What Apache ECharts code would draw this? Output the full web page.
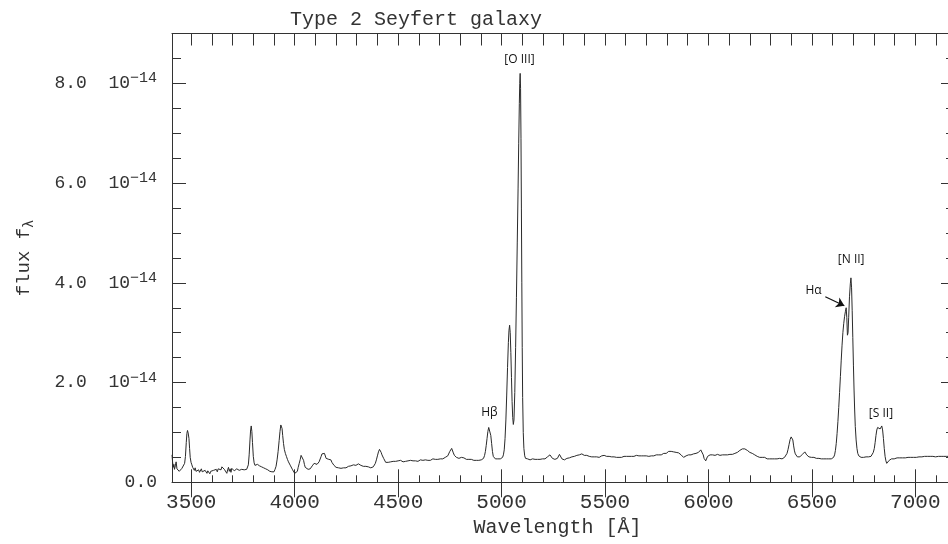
<!DOCTYPE html>
<html>
<head>
<meta charset="utf-8">
<script src="https://cdn.jsdelivr.net/npm/echarts/dist/echarts.min.js"></script>
<style>html,body{margin:0;padding:0;background:#fff;}#c{width:948px;height:544px;}</style>
</head>
<body>
<div id="c"></div>
<script>
// Flux in units of 1e-14, wavelength in Angstrom
const specBlue = [[3407,0.55],[3410,0.40],[3413,0.30],[3416,0.36],[3419,0.26],[3423,0.33],[3427,0.41],[3431,0.27],[3434,0.24],[3438,0.30],[3442,0.22],[3447,0.25],[3451,0.21],[3455,0.28],[3460,0.27],[3464,0.31],[3468,0.38],[3472,0.52],[3476,0.80],[3479,0.98],[3482,1.04],[3485,0.99],[3489,0.88],[3492,0.68],[3495,0.50],[3499,0.40],[3503,0.35],[3507,0.30],[3511,0.28],
[3515,0.24],[3519,0.29],[3523,0.22],[3527,0.26],[3531,0.21],[3536,0.25],[3540,0.20],[3545,0.24],[3549,0.27],[3553,0.21],[3558,0.23],[3562,0.19],[3567,0.24],[3571,0.22],[3576,0.18],[3580,0.23],[3585,0.20],[3590,0.17],[3594,0.22],[3599,0.19],[3603,0.21],[3608,0.24],[3612,0.20],[3617,0.23],[3621,0.26],[3626,0.21],[3630,0.27],[3635,0.23],[3639,0.29],[3644,0.25],[3648,0.31],[3652,0.27],[3656,0.35],[3660,0.26],[3664,0.22],[3668,0.28],[3672,0.18],[3676,0.25],[3680,0.30],[3684,0.22],[3688,0.27],[3692,0.20],[3696,0.28],[3700,0.24],[3704,0.30],[3708,0.23],[3712,0.26],[3716,0.22],[3720,0.27],[3724,0.25],[3728,0.29],[3732,0.24],[3736,0.27],[3740,0.25],[3744,0.26],[3748,0.23],[3752,0.27],[3756,0.25],[3760,0.26],[3764,0.28],[3768,0.26],[3772,0.29],[3776,0.35],[3780,0.55],[3784,0.85],[3787,1.05],[3790,1.13],[3793,1.02],[3796,0.80],[3800,0.52],[3804,0.39],[3808,0.34],[3812,0.36],[3816,0.32],[3820,0.36],[3825,0.34],[3830,0.33],[3835,0.35],[3840,0.31],[3845,0.32],[3850,0.29],[3855,0.30],[3860,0.27],[3865,0.28],[3870,0.25],[3875,0.24],[3880,0.22],[3885,0.23],[3890,0.21],[3895,0.22],[3900,0.21],[3905,0.26],[3910,0.32],[3915,0.45],[3920,0.62],[3925,0.84],[3929,1.02],[3933,1.15],[3936,1.18],[3939,1.08],[3942,0.94],[3946,0.78],[3950,0.66],[3955,0.58],[3960,0.52],[3965,0.46],[3970,0.41],[3975,0.38],[3980,0.33],[3985,0.29],[3990,0.25],[3995,0.21],[4000,0.18],[4005,0.15],[4009,0.16],[4013,0.22],[4017,0.30],[4022,0.38],[4027,0.46],[4031,0.54],[4035,0.57],[4039,0.52],[4043,0.44],[4047,0.36],[4051,0.30],[4055,0.28],[4060,0.27],[4065,0.26],[4070,0.28],[4075,0.27],[4080,0.30],[4085,0.33],[4090,0.37],[4094,0.38],[4098,0.35],[4103,0.34],[4108,0.36],[4113,0.38],[4118,0.41],[4123,0.45],[4128,0.52],[4132,0.57],[4136,0.60],[4140,0.61],[4144,0.58],[4148,0.54],[4152,0.48],[4156,0.45],[4160,0.44],[4165,0.46],[4170,0.48],[4175,0.45],[4180,0.40],[4185,0.36],[4190,0.34],[4195,0.32],[4200,0.30]];
const specGreen = [[4206,0.31],[4212,0.29],[4218,0.30],[4224,0.28],[4230,0.31],[4236,0.29],[4242,0.30],[4248,0.29],[4254,0.31],[4260,0.32],[4266,0.31],[4272,0.33],[4278,0.35],[4284,0.35],[4290,0.36],[4296,0.34],[4302,0.35],[4308,0.37],[4314,0.36],[4320,0.34],[4326,0.33],[4332,0.32],[4338,0.31],[4344,0.32],[4350,0.30],[4356,0.31],[4362,0.30],[4368,0.29],[4374,0.30],[4380,0.31],[4385,0.33],[4390,0.38],[4395,0.45],[4400,0.53],[4405,0.61],[4410,0.66],[4414,0.65],[4418,0.60],[4422,0.55],[4426,0.52],[4430,0.48],[4435,0.44],[4440,0.40],[4446,0.38],[4452,0.40],[4458,0.39],[4464,0.41],[4470,0.40],[4476,0.42],[4482,0.40],[4488,0.42],[4494,0.41],[4500,0.43],[4506,0.41],[4512,0.44],[4518,0.42],[4524,0.41],[4530,0.43],[4536,0.42],[4542,0.41],[4548,0.43],[4554,0.42],[4560,0.44],[4566,0.42],[4572,0.43],[4578,0.45],[4584,0.43],[4590,0.44],[4596,0.42],[4602,0.44],[4608,0.45],[4614,0.43],[4620,0.44],[4626,0.43],[4632,0.45],[4638,0.43],[4644,0.44],[4650,0.46],[4656,0.44],[4662,0.45],[4668,0.47],[4674,0.45],[4680,0.46],[4686,0.48],[4692,0.46],[4698,0.47],[4704,0.47],[4710,0.48],[4716,0.47],[4722,0.49],[4728,0.50],[4734,0.51],[4740,0.53],[4745,0.57],[4750,0.62],[4755,0.66],[4759,0.68],[4763,0.65],[4767,0.59],[4772,0.54],[4777,0.51],[4782,0.50],[4788,0.49],[4794,0.48],[4800,0.49],[4806,0.50],[4812,0.51],[4818,0.49],[4824,0.47],[4830,0.46],[4836,0.47],[4842,0.46],[4848,0.45],[4854,0.46],[4860,0.45],[4866,0.44],[4872,0.45],[4878,0.44],[4884,0.43],[4890,0.44],[4896,0.44],[4902,0.45],[4908,0.46]];
const specHbOIII = [[4913,0.48],[4918,0.54],[4922,0.62],[4926,0.74],[4930,0.88],[4934,1.02],[4938,1.10],[4941,1.12],[4944,1.08],[4948,0.94],[4952,0.78],[4956,0.62],[4960,0.52],[4965,0.48],[4970,0.47],[4976,0.46],[4982,0.47],[4988,0.46],[4994,0.47],[5000,0.48],[5005,0.50],[5009,0.55],[5013,0.65],[5017,0.88],[5021,1.25],[5025,1.75],[5029,2.30],[5033,2.80],[5036,3.05],[5039,3.15],[5042,3.00],[5045,2.60],[5048,2.10],[5051,1.62],[5054,1.30],[5057,1.16],[5060,1.25],[5064,1.80],[5068,2.70],[5072,3.70],[5076,4.80],[5080,5.90],[5083,6.80],[5086,7.60],[5088,8.00],[5090,8.20],[5092,7.90],[5094,6.90],[5096,5.50],[5098,4.00],[5100,2.70],[5102,1.70],[5105,1.00],[5108,0.68],[5112,0.53],[5116,0.48],[5120,0.46]];
const specYellow = [[5126,0.47],[5132,0.46],[5138,0.45],[5144,0.46],[5150,0.47],[5156,0.45],[5162,0.46],[5168,0.45],[5174,0.46],[5180,0.47],[5186,0.46],[5192,0.45],[5198,0.47],[5204,0.48],[5210,0.47],[5216,0.49],[5222,0.51],[5228,0.53],[5234,0.55],[5240,0.52],[5246,0.48],[5252,0.45],[5258,0.46],[5264,0.47],[5270,0.48],[5276,0.50],[5280,0.56],[5284,0.59],[5288,0.52],[5292,0.47],[5298,0.46],[5304,0.45],[5310,0.47],[5316,0.48],[5322,0.47],[5328,0.49],[5334,0.50],[5340,0.51],[5346,0.50],[5352,0.52],[5358,0.53],[5364,0.54],[5370,0.53],[5376,0.55],[5382,0.56],[5388,0.57],[5394,0.55],[5400,0.54],[5406,0.53],[5412,0.54],[5418,0.53],[5424,0.52],[5430,0.53],[5436,0.51],[5442,0.52],[5448,0.51],[5454,0.50],[5460,0.51],[5466,0.50],[5472,0.50],[5478,0.52],[5484,0.53],[5490,0.52],[5496,0.54],[5502,0.54],[5508,0.52],[5514,0.51],[5520,0.52],[5526,0.51],[5532,0.51],[5538,0.50],[5544,0.51],[5550,0.50],[5556,0.50],[5562,0.49],[5568,0.50],[5574,0.51],[5580,0.50],[5586,0.51],[5592,0.52],[5598,0.51],[5604,0.52],[5610,0.51],[5616,0.52],[5622,0.53],[5628,0.52],[5634,0.53],[5640,0.52],[5646,0.53],[5652,0.54],[5658,0.53],[5664,0.53],[5670,0.52],[5676,0.53],[5682,0.54],[5688,0.53],[5694,0.54],[5700,0.53],[5706,0.54],[5712,0.52],[5718,0.53],[5724,0.53],[5730,0.54],[5736,0.53],[5742,0.54],[5748,0.55],[5754,0.54],[5760,0.55],[5766,0.56],[5772,0.55],[5778,0.57],[5784,0.58],[5790,0.59],[5796,0.58],[5802,0.60],[5808,0.62],[5814,0.63],[5820,0.62],[5826,0.62],[5832,0.61],[5838,0.61],[5844,0.60],[5850,0.60],[5856,0.59],[5862,0.58],[5868,0.55],[5874,0.52],[5880,0.50],[5886,0.51],[5892,0.53],[5898,0.55],[5904,0.55],[5910,0.56],[5916,0.55],[5922,0.56],[5928,0.57],[5934,0.57],[5940,0.58],[5946,0.58],[5952,0.60],[5958,0.62],[5963,0.65],[5967,0.67],[5971,0.62],[5975,0.55],[5979,0.48],[5983,0.44],[5987,0.43],[5991,0.47],[5996,0.52],[6001,0.55]];
const specOrange = [[6008,0.55],[6014,0.54],[6020,0.55],[6026,0.55],[6032,0.54],[6038,0.55],[6044,0.56],[6050,0.55],[6056,0.54],[6062,0.55],[6068,0.55],[6074,0.54],[6080,0.55],[6086,0.56],[6092,0.55],[6098,0.55],[6104,0.56],[6110,0.55],[6116,0.56],[6122,0.57],[6128,0.58],[6134,0.59],[6140,0.60],[6146,0.62],[6152,0.64],[6158,0.66],[6164,0.67],[6170,0.68],[6176,0.67],[6182,0.66],[6188,0.64],[6194,0.62],[6200,0.60],[6206,0.59],[6212,0.58],[6218,0.56],[6224,0.55],[6230,0.53],[6236,0.52],[6242,0.51],[6248,0.50],[6254,0.51],[6260,0.50],[6266,0.49],[6272,0.50],[6278,0.48],[6284,0.47],[6290,0.48],[6296,0.47],[6302,0.48],[6308,0.47],[6314,0.48],[6320,0.47],[6326,0.48],[6332,0.47],[6338,0.47],[6344,0.48],[6350,0.47],[6356,0.47],[6362,0.48],[6368,0.50],[6374,0.53],[6380,0.58],[6385,0.66],[6390,0.76],[6395,0.86],[6400,0.91],[6404,0.92],[6408,0.85],[6412,0.73],[6416,0.63],[6420,0.57],[6425,0.53],[6430,0.51],[6436,0.50],[6442,0.51],[6448,0.53],[6454,0.56],[6460,0.59],[6466,0.61],[6470,0.59],[6475,0.55],[6480,0.52],[6486,0.51],[6492,0.50],[6498,0.50],[6504,0.49],[6510,0.50],[6516,0.49],[6522,0.48],[6528,0.49],[6534,0.48],[6540,0.48],[6546,0.47],[6552,0.48],[6558,0.47],[6564,0.48],[6570,0.47],[6576,0.48],[6582,0.47],[6588,0.47],[6594,0.47],[6600,0.48]];
const specRed = [[6605,0.50],[6610,0.55],[6614,0.64],[6618,0.78],[6622,0.98],[6626,1.22],[6630,1.50],[6634,1.80],[6638,2.12],[6642,2.45],[6646,2.75],[6650,3.00],[6654,3.18],[6658,3.32],[6662,3.42],[6666,3.50],[6669,3.30],[6672,2.95],[6675,3.00],[6678,3.30],[6682,3.72],[6686,3.98],[6689,4.10],[6692,3.90],[6695,3.45],[6698,2.90],[6701,2.35],[6704,1.85],[6707,1.45],[6710,1.12],[6714,0.85],[6718,0.68],[6722,0.58],[6727,0.53],[6732,0.51],[6738,0.50],[6744,0.51],[6750,0.50],[6756,0.50],[6762,0.51],[6768,0.50],[6774,0.51],[6780,0.51],[6786,0.52],[6792,0.55],[6797,0.60],[6802,0.68],[6806,0.80],[6810,0.94],[6814,1.05],[6818,1.10],[6822,1.12],[6826,1.08],[6830,1.07],[6834,1.11],[6838,1.13],[6842,1.05],[6846,0.88],[6850,0.68],[6854,0.52],[6858,0.43],[6862,0.38],[6866,0.36],[6870,0.40],[6874,0.44],[6879,0.46],[6885,0.47],[6892,0.48],[6898,0.47],[6905,0.48],[6912,0.49],[6918,0.48],[6925,0.49],[6932,0.48],[6938,0.49],[6945,0.50],[6952,0.49],[6958,0.50],[6965,0.50],[6972,0.51],[6978,0.50],[6985,0.51],[6992,0.50],[6998,0.51],[7005,0.50],[7012,0.51],[7018,0.51],[7025,0.52],[7032,0.51],[7038,0.52],[7045,0.52],[7052,0.51],[7058,0.52],[7065,0.51],[7072,0.52],[7078,0.51],[7085,0.52],[7092,0.52],[7098,0.51],[7105,0.52],[7112,0.52],[7118,0.51],[7125,0.52],[7132,0.51],[7138,0.52],[7145,0.51],[7152,0.52],[7160,0.52]];

const xLabelValues = [3500,4000,4500,5000,5500,6000,6500,7000];
const xMinorTicks = [3500,3600,3700,3800,3900,4000,4100,4200,4300,4400,4500,4600,4700,4800,4900,5000,5100,5200,5300,5400,5500,5600,5700,5800,5900,6000,6100,6200,6300,6400,6500,6600,6700,6800,6900,7000,7100];
const yLabelValues = [0,2,4,6,8];
const yMinorTicks = [0.5,1,1.5,2,2.5,3,3.5,4,4.5,5,5.5,6,6.5,7,7.5,8,8.5];
const lineLabels = [
  {text:'[O III]', x:5087, y:8.47},
  {text:'Hβ', x:4941, y:1.39},
  {text:'[N II]', x:6690, y:4.47},
  {text:'Hα', x:6508, y:3.84},
  {text:'[S II]', x:6834, y:1.38}
];
const arrowHa = [[6565,3.72],[6657,3.54]];

const spectrum = [].concat(specBlue, specGreen, specHbOIII, specYellow, specOrange, specRed);

const MONO = 'Liberation Mono';
const INK = '#333';
const X_MIN = 3407, X_MAX = 7192, Y_MIN = 0, Y_MAX = 9;

function xAx(pos, len, ticks, extra) {
  return Object.assign({
    type:'value', position:pos, min:X_MIN, max:X_MAX, splitLine:{show:false},
    axisLine:{show:true, onZero:false, lineStyle:{color:INK, width:1}},
    axisTick:{show:true, inside:true, length:len, customValues:ticks, lineStyle:{color:INK, width:1}},
    axisLabel:{show:false}
  }, extra||{});
}
function yAx(pos, len, ticks, extra) {
  return Object.assign({
    type:'value', position:pos, min:Y_MIN, max:Y_MAX, splitLine:{show:false},
    axisLine:{show:true, onZero:false, lineStyle:{color:INK, width:1}},
    axisTick:{show:true, inside:true, length:len, customValues:ticks, lineStyle:{color:INK, width:1}},
    axisLabel:{show:false}
  }, extra||{});
}

const chart = echarts.init(document.getElementById('c'), null, {renderer:'canvas'});
chart.setOption({
  animation:false,
  backgroundColor:'#fff',
  title:{text:'Type 2 Seyfert galaxy', left:285, top:5,
    textStyle:{fontFamily:MONO, fontSize:20, fontWeight:'normal', color:INK}},
  grid:{left:172, top:33.5, right:-7, bottom:61.7, containLabel:false, outerBoundsMode:'none'},
  xAxis:[
    xAx('bottom', 7, xMinorTicks, {
      name:'Wavelength [Å]', nameLocation:'middle', nameGap:32,
      nameTextStyle:{fontFamily:MONO, fontSize:20, color:INK, padding:[0,12,0,0]},
      axisLabel:{show:true, customValues:xLabelValues, margin:10, fontFamily:MONO, fontSize:21, color:INK,
        formatter:function(v){ return String(v); }}
    }),
    xAx('bottom', 13, xLabelValues, {axisLine:{show:false}}),
    xAx('top', 12, xMinorTicks),
    xAx('top', 15, xLabelValues, {axisLine:{show:false}})
  ],
  yAxis:[
    yAx('left', 9, yMinorTicks, {
      name:'flux f{sub|λ}', nameLocation:'middle', nameGap:136,
      nameTextStyle:{fontFamily:MONO, fontSize:19, color:INK,
        rich:{sub:{fontFamily:MONO, fontSize:14, color:INK, padding:[10,0,0,0]}}},
      axisLabel:{show:true, customValues:yLabelValues, margin:15, fontFamily:MONO, fontSize:18, color:INK,
        formatter:function(v){ return v===0 ? '0.0' : v.toFixed(1)+'  10{sup|−14}'; },
        rich:{sup:{fontFamily:MONO, fontSize:15, color:INK, padding:[0,0,10,0]}}}
    }),
    yAx('left', 14, yLabelValues, {axisLine:{show:false}}),
    yAx('right', 9, yMinorTicks),
    yAx('right', 14, yLabelValues, {axisLine:{show:false}})
  ],
  series:[{
    type:'line', xAxisIndex:0, yAxisIndex:0, data:spectrum,
    showSymbol:false, symbol:'none', smooth:false, sampling:null, clip:true,
    lineStyle:{color:'#2a2a2a', width:1},
    emphasis:{disabled:true}, silent:true,
    markPoint:{
      silent:true, animation:false, symbol:'circle', symbolSize:0,
      itemStyle:{color:'transparent'},
      label:{show:true, position:'inside', formatter:function(p){return p.name;},
        fontFamily:'Open Sans', fontSize:12, color:'#111'},
      data: lineLabels.map(function(a){ return {name:a.text, coord:[a.x,a.y]}; })
    },
    markLine:{
      silent:true, animation:false, symbol:['none','arrow'], symbolSize:8,
      label:{show:false}, lineStyle:{color:'#111', width:1.2, type:'solid'},
      itemStyle:{color:'#111'},
      emphasis:{disabled:true},
      data:[[{coord:arrowHa[0]},{coord:arrowHa[1]}]]
    }
  }]
});
</script>
</body>
</html>
